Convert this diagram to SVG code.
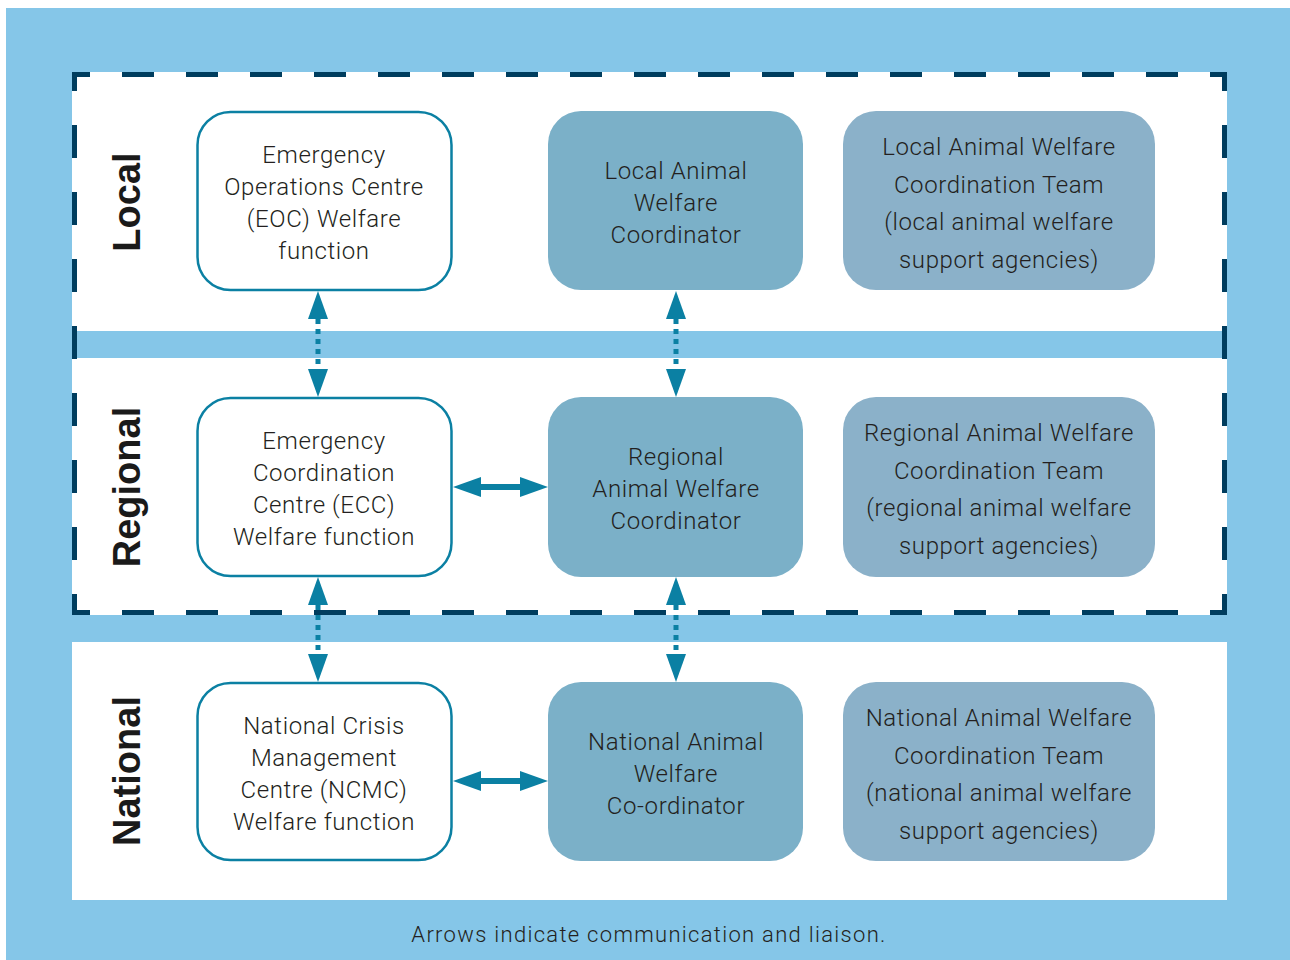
<svg xmlns="http://www.w3.org/2000/svg" width="1290" height="960" viewBox="0 0 1290 960">
<style>
.t{font-family:Roboto,"Liberation Sans",sans-serif;font-weight:300;font-size:24px;letter-spacing:0.6px;fill:#231F20;text-anchor:middle}
.lvl{font-family:"Liberation Sans",Arial,sans-serif;font-weight:bold;font-size:38px;fill:#1A1A1A;text-anchor:middle}
.b1{fill:#FFFFFF;stroke:#0B80A3;stroke-width:2.5}
.b2{fill:#7BB0C8}
.b3{fill:#8BB1C9}
.bd{stroke:#003D5E;stroke-width:5;fill:none;stroke-dasharray:32 32;stroke-dashoffset:14}
.bdv{stroke:#003D5E;stroke-width:5;fill:none;stroke-dasharray:33 34;stroke-dashoffset:14}
.dot{stroke:#0B80A3;stroke-width:5;stroke-dasharray:5 5;fill:none;marker-start:url(#ah);marker-end:url(#ah)}
.sol{stroke:#0B80A3;stroke-width:6;fill:none;marker-start:url(#ah);marker-end:url(#ah)}
</style>
<defs>
<marker id="ah" viewBox="0 -10 28 20" refX="0" refY="0" markerWidth="28" markerHeight="20" markerUnits="userSpaceOnUse" orient="auto-start-reverse" overflow="visible">
<path d="M0,-10 L28,0 L0,10 Z" fill="#0B80A3"/>
</marker>
</defs>
<rect x="0" y="0" width="1290" height="960" fill="#FFFFFF"/>
<rect x="6" y="8" width="1284" height="952" fill="#85C6E8"/>
<rect x="72" y="72" width="1155" height="543" fill="#FFFFFF"/>
<rect x="77" y="331" width="1145" height="27" fill="#85C6E8"/>
<rect x="72" y="642" width="1155" height="258" fill="#FFFFFF"/>
<g id="border">
<line class="bd" x1="72" y1="74.5" x2="1227" y2="74.5"/>
<line class="bd" x1="72" y1="612.5" x2="1227" y2="612.5"/>
<line class="bdv" x1="74.5" y1="72" x2="74.5" y2="615"/>
<line class="bdv" x1="1224.5" y1="72" x2="1224.5" y2="615"/>
</g>
<g id="labels">
<text class="lvl" transform="translate(140,202) rotate(-90)">Local</text>
<text class="lvl" transform="translate(140,487) rotate(-90)">Regional</text>
<text class="lvl" transform="translate(140,771) rotate(-90)">National</text>
</g>
<g id="eoc">
<rect class="b1" x="197.5" y="112" width="254" height="178" rx="33"/>
<text class="t" x="324" y="163">Emergency</text>
<text class="t" x="324" y="195">Operations Centre</text>
<text class="t" x="324" y="227">(EOC) Welfare</text>
<text class="t" x="324" y="259">function</text>
</g>
<g id="local-coord">
<rect class="b2" x="548" y="111" width="255" height="179" rx="33"/>
<text class="t" x="676" y="179">Local Animal</text>
<text class="t" x="676" y="211">Welfare</text>
<text class="t" x="676" y="243">Coordinator</text>
</g>
<g id="local-team">
<rect class="b3" x="843" y="111" width="312" height="179" rx="33"/>
<text class="t" x="999" y="155">Local Animal Welfare</text>
<text class="t" x="999" y="192.5">Coordination Team</text>
<text class="t" x="999" y="230">(local animal welfare</text>
<text class="t" x="999" y="267.5">support agencies)</text>
</g>
<g id="ecc">
<rect class="b1" x="197.5" y="398" width="254" height="178" rx="33"/>
<text class="t" x="324" y="449">Emergency</text>
<text class="t" x="324" y="481">Coordination</text>
<text class="t" x="324" y="513">Centre (ECC)</text>
<text class="t" x="324" y="545">Welfare function</text>
</g>
<g id="regional-coord">
<rect class="b2" x="548" y="397" width="255" height="180" rx="33"/>
<text class="t" x="676" y="465">Regional</text>
<text class="t" x="676" y="497">Animal Welfare</text>
<text class="t" x="676" y="529">Coordinator</text>
</g>
<g id="regional-team">
<rect class="b3" x="843" y="397" width="312" height="180" rx="33"/>
<text class="t" x="999" y="441">Regional Animal Welfare</text>
<text class="t" x="999" y="478.5">Coordination Team</text>
<text class="t" x="999" y="516">(regional animal welfare</text>
<text class="t" x="999" y="553.5">support agencies)</text>
</g>
<g id="ncmc">
<rect class="b1" x="197.5" y="683" width="254" height="177" rx="33"/>
<text class="t" x="324" y="734">National Crisis</text>
<text class="t" x="324" y="766">Management</text>
<text class="t" x="324" y="798">Centre (NCMC)</text>
<text class="t" x="324" y="830">Welfare function</text>
</g>
<g id="national-coord">
<rect class="b2" x="548" y="682" width="255" height="179" rx="33"/>
<text class="t" x="676" y="750">National Animal</text>
<text class="t" x="676" y="782">Welfare</text>
<text class="t" x="676" y="814">Co-ordinator</text>
</g>
<g id="national-team">
<rect class="b3" x="843" y="682" width="312" height="179" rx="33"/>
<text class="t" x="999" y="726">National Animal Welfare</text>
<text class="t" x="999" y="763.5">Coordination Team</text>
<text class="t" x="999" y="801">(national animal welfare</text>
<text class="t" x="999" y="838.5">support agencies)</text>
</g>
<g id="connectors">
<line class="dot" x1="318" y1="319" x2="318" y2="369"/>
<line class="dot" x1="676" y1="319" x2="676" y2="369"/>
<line class="dot" x1="318" y1="605" x2="318" y2="654"/>
<line class="dot" x1="676" y1="605" x2="676" y2="654"/>
<line class="sol" x1="481" y1="487" x2="520" y2="487"/>
<line class="sol" x1="481" y1="781" x2="520" y2="781"/>
</g>
<text class="t" x="649" y="942" style="font-size:22px;letter-spacing:1.3px">Arrows indicate communication and liaison.</text>
</svg>
